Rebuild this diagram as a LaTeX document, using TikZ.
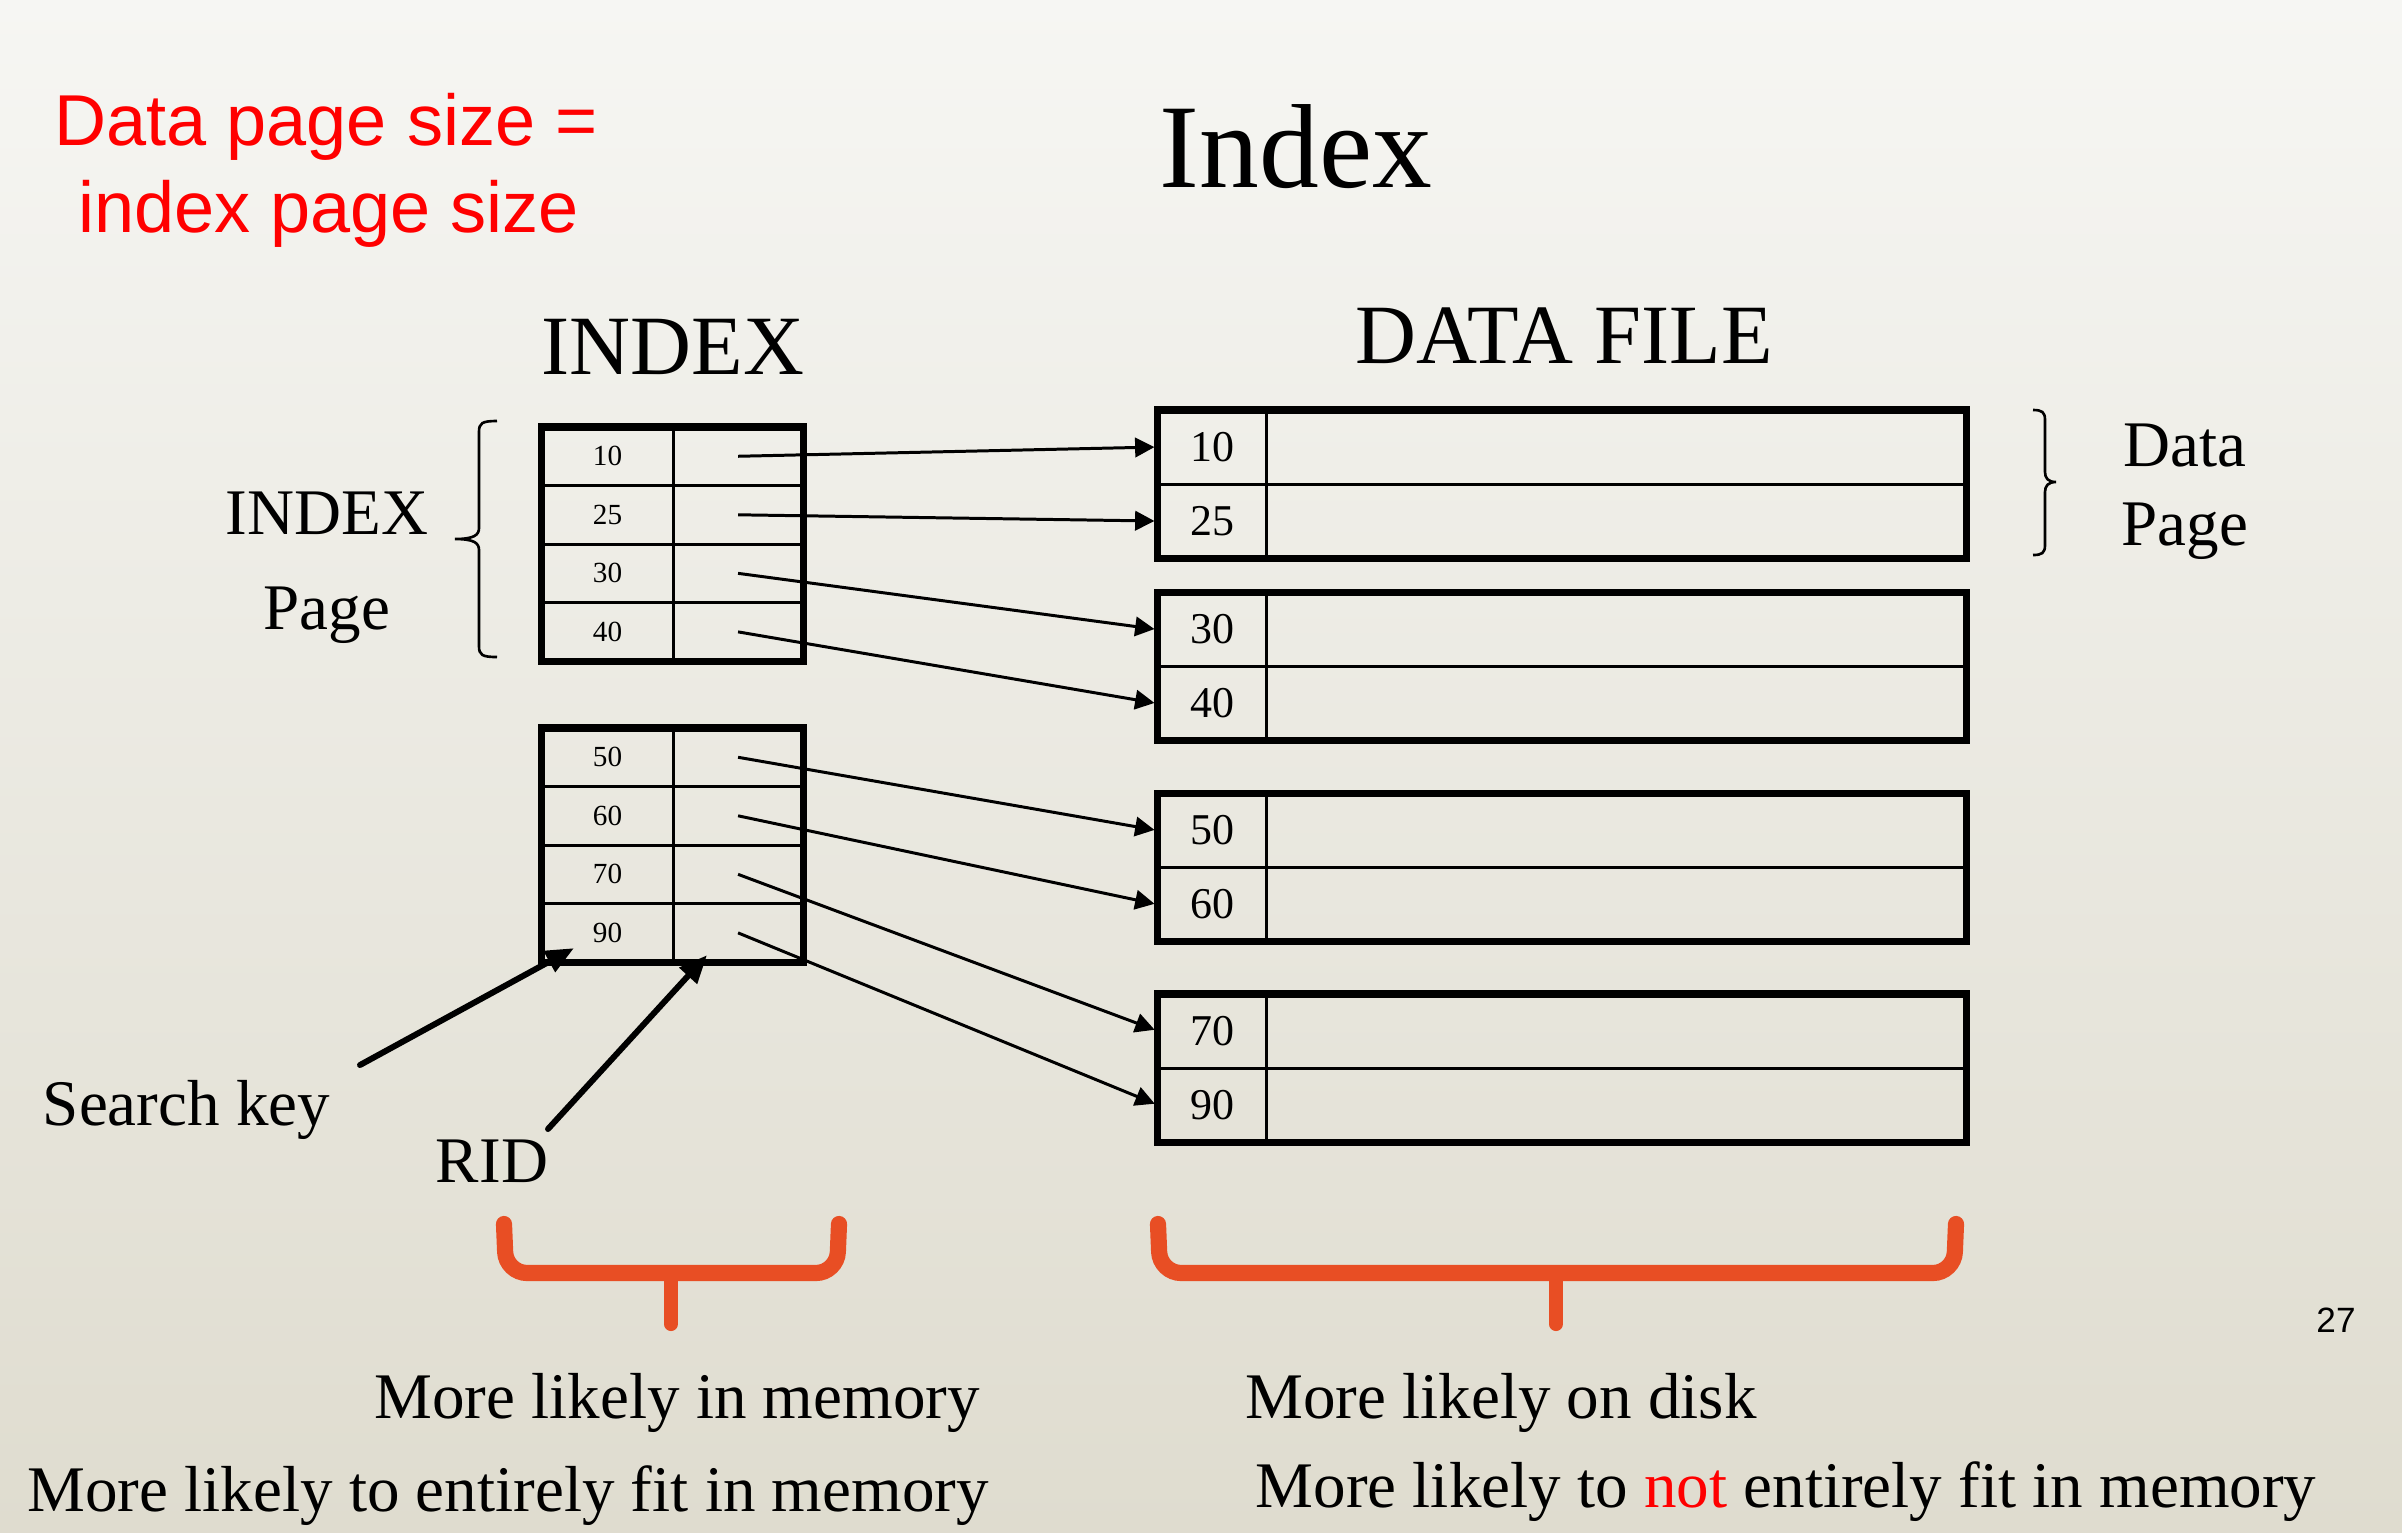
\documentclass[tikz,border=0pt]{standalone}
\usepackage{fontspec}
\setmainfont{Liberation Serif}
\newfontfamily\slidesans{Liberation Sans}
\usetikzlibrary{arrows.meta, positioning, calc}
\definecolor{bracecol}{RGB}{232,78,36}
\definecolor{bgtop}{RGB}{246,246,243}
\definecolor{bgbot}{RGB}{223,220,207}

\begin{document}
\begin{tikzpicture}[x=0.01cm, y=-0.01cm,
    ikey/.style={draw, line width=0.85pt, minimum width=1.31cm, minimum height=0.585cm, inner sep=0pt, outer sep=0pt, font=\fontsize{8.3}{10}\selectfont},
    iptr/.style={ikey, minimum width=1.30cm},
    dkey/.style={draw, line width=0.85pt, minimum width=1.085cm, minimum height=0.74cm, inner sep=0pt, outer sep=0pt, font=\fontsize{12.5}{14}\selectfont},
    dval/.style={dkey, minimum width=6.995cm},
    pageborder/.style={line width=2pt},
    ptr/.style={-{Triangle[length=5.5pt,width=5.5pt]}, line width=0.85pt, shorten >=1pt},
    callout/.style={-{Triangle[length=8pt,width=6.5pt]}, line width=1.7pt, line cap=round},
    lbl/.style={anchor=base, inner sep=0pt, font=\fontsize{18.5}{22}\selectfont},
    orangebrace/.style={draw=bracecol, line width=4.6pt, line cap=round, rounded corners=6pt}]
    % Fundo
    \useasboundingbox (0,0) rectangle (2402,1532);
    \shade[top color=bgtop, bottom color=bgbot] (0,0) rectangle (2402,1532);
    % Titulos
    \node[anchor=base, inner sep=0pt, font=\fontsize{34}{40}\selectfont] (title) at (1296,187) {Index};
    \node[anchor=base, inner sep=0pt, text=red, font=\slidesans\fontsize{20.5}{24}\selectfont] (rule1) at (326,145) {Data page size =};
    \node[anchor=base, inner sep=0pt, text=red, font=\slidesans\fontsize{20.5}{24}\selectfont] (rule2) at (328.5,232.8) {index page size};
    \node[anchor=base, inner sep=0pt, font=\fontsize{24}{28}\selectfont] (idxhead) at (673,374) {INDEX};
    \node[anchor=base, inner sep=0pt, font=\fontsize{24}{28}\selectfont] (datahead) at (1564,363) {DATA FILE};
    % Pagina de indice 1
    \node[ikey] (i10) at (607.5,456.25) {10};
    \node[iptr, right=0pt of i10] (p10) {};
    \node[ikey, below=0pt of i10] (i25) {25};
    \node[iptr, right=0pt of i25] (p25) {};
    \node[ikey, below=0pt of i25] (i30) {30};
    \node[iptr, right=0pt of i30] (p30) {};
    \node[ikey, below=0pt of i30] (i40) {40};
    \node[iptr, right=0pt of i40] (p40) {};
    \draw[pageborder] (i10.north west) rectangle (p40.south east);
    % Pagina de indice 2
    \node[ikey] (i50) at (607.5,757.25) {50};
    \node[iptr, right=0pt of i50] (p50) {};
    \node[ikey, below=0pt of i50] (i60) {60};
    \node[iptr, right=0pt of i60] (p60) {};
    \node[ikey, below=0pt of i60] (i70) {70};
    \node[iptr, right=0pt of i70] (p70) {};
    \node[ikey, below=0pt of i70] (i90) {90};
    \node[iptr, right=0pt of i90] (p90) {};
    \draw[pageborder] (i50.north west) rectangle (p90.south east);
    % Paginas de dados
    \node[dkey] (d10) at (1212.25,447) {10};
    \node[dval, right=0pt of d10] (v10) {};
    \node[dkey, below=0pt of d10] (d25) {25};
    \node[dval, right=0pt of d25] (v25) {};
    \draw[pageborder] (d10.north west) rectangle (v25.south east);
    \node[dkey] (d30) at (1212.25,629.5) {30};
    \node[dval, right=0pt of d30] (v30) {};
    \node[dkey, below=0pt of d30] (d40) {40};
    \node[dval, right=0pt of d40] (v40) {};
    \draw[pageborder] (d30.north west) rectangle (v40.south east);
    \node[dkey] (d50) at (1212.25,830.5) {50};
    \node[dval, right=0pt of d50] (v50) {};
    \node[dkey, below=0pt of d50] (d60) {60};
    \node[dval, right=0pt of d60] (v60) {};
    \draw[pageborder] (d50.north west) rectangle (v60.south east);
    \node[dkey] (d70) at (1212.25,1031) {70};
    \node[dval, right=0pt of d70] (v70) {};
    \node[dkey, below=0pt of d70] (d90) {90};
    \node[dval, right=0pt of d90] (v90) {};
    \draw[pageborder] (d70.north west) rectangle (v90.south east);
    % Ponteiros
    \draw[ptr] (p10.center) -- (d10.west);
    \draw[ptr] (p25.center) -- (d25.west);
    \draw[ptr] (p30.center) -- (d30.west);
    \draw[ptr] (p40.center) -- (d40.west);
    \draw[ptr] (p50.center) -- (d50.west);
    \draw[ptr] (p60.center) -- (d60.west);
    \draw[ptr] (p70.center) -- (d70.west);
    \draw[ptr] (p90.center) -- (d90.west);
    % Chaves
    \node[lbl] (idxlbl) at (327,534.5) {INDEX};
    \node[lbl] (idxpage) at (327,629) {Page};
    \draw[line width=0.75pt] (497,421) .. controls (482,421) and (479,423) .. (479,432) -- (479,528)
        .. controls (479,535) and (474,539) .. (455,539) .. controls (474,539) and (479,543) .. (479,550)
        -- (479,646) .. controls (479,655) and (482,657) .. (497,657);
    \node[lbl] (datalbl) at (2185,466.7) {Data};
    \node[lbl] (datapage) at (2185,545) {Page};
    \draw[line width=0.75pt] (2033,410) .. controls (2042,410) and (2045,412) .. (2045,420) -- (2045,472)
        .. controls (2045,478) and (2048,482) .. (2056,482) .. controls (2048,482) and (2045,486) .. (2045,492)
        -- (2045,545) .. controls (2045,553) and (2042,555) .. (2033,555);
    % Search key e RID
    \node[lbl] (skey) at (186.5,1125) {Search key};
    \node[lbl] (rid) at (492,1182.7) {RID};
    \coordinate (skfrom) at (360,1065);
    \coordinate (ridfrom) at (548,1129);
    \draw[callout] (skfrom) -- ($(i90.south west)+(32,-14)$);
    \draw[callout] (ridfrom) -- ($(p90.south west)+(34,-7)$);
    % Chaves laranja
    \draw[orangebrace] (504,1224) -- (506,1273) -- (837,1273) -- (839,1224);
    \draw[orangebrace, line width=4pt] (671,1273) -- (671,1324);
    \draw[orangebrace] (1158,1224) -- (1160,1273) -- (1954,1273) -- (1956,1224);
    \draw[orangebrace, line width=4pt] (1556,1273) -- (1556,1324);
    % Rodape
    \node[lbl] (mem1) at (677,1418) {More likely in memory};
    \node[lbl] (mem2) at (508,1511) {More likely to entirely fit in memory};
    \node[lbl] (disk1) at (1501,1418) {More likely on disk};
    \node[lbl] (disk2) at (1786,1507) {More likely to \textcolor{red}{not} entirely fit in memory};
    \node[anchor=base, inner sep=0pt, font=\slidesans\fontsize{10}{12}\selectfont] (pgnum) at (2336,1332) {27};
\end{tikzpicture}
\end{document}
